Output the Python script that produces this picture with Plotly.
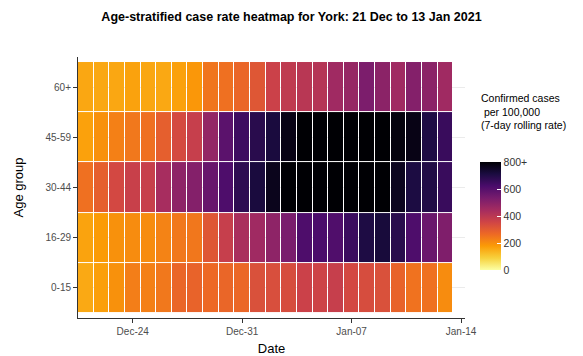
import plotly.graph_objects as go
import pandas as pd

# ---- data ----
dates = pd.date_range("2020-12-21", "2021-01-13", freq="D")
age_groups = ["0-15", "16-29", "30-44", "45-59", "60+"]

rate_0_15 = [155, 172, 195, 230, 225, 240, 275, 280, 268, 275, 272, 325,
             330, 335, 365, 360, 375, 345, 335, 325, 280, 250, 252, 205]
rate_16_29 = [165, 178, 195, 205, 205, 220, 240, 242, 310, 375, 435, 455,
              490, 530, 615, 620, 610, 650, 705, 720, 685, 615, 560, 520]
rate_30_44 = [255, 290, 345, 370, 372, 440, 490, 510, 565, 615, 675, 715,
              765, 860, 905, 940, 960, 930, 890, 840, 760, 710, 700, 655]
rate_45_59 = [168, 195, 225, 240, 255, 290, 340, 375, 480, 590, 645, 685,
              715, 775, 830, 880, 910, 900, 870, 830, 785, 775, 705, 655]
rate_60p = [158, 156, 158, 166, 158, 156, 168, 185, 245, 255, 275, 310,
            365, 390, 405, 410, 455, 475, 525, 495, 455, 510, 495, 455]

tick_dates = ["2020-12-24", "2020-12-31", "2021-01-07", "2021-01-14"]
cbar_vals = [0, 200, 400, 600, 800]
cbar_text = ["0", "200", "400", "600", "800+"]

z = [rate_0_15, rate_16_29, rate_30_44, rate_45_59, rate_60p]

FONT = "Liberation Sans, Arial, sans-serif"

fig = go.Figure(
    go.Heatmap(
        x=dates,
        y=age_groups,
        z=z,
        zmin=0,
        zmax=800,
        colorscale="Inferno_r",
        xgap=1,
        ygap=1,
        colorbar=dict(
            tickvals=cbar_vals,
            ticktext=cbar_text,
            ticks="inside",
            ticklen=4,
            tickcolor="white",
            thickness=21,
            thicknessmode="pixels",
            len=108,
            lenmode="pixels",
            x=1.038,
            xanchor="left",
            xpad=0,
            y=0.39,
            yanchor="middle",
            ypad=0,
            outlinewidth=0,
            tickfont=dict(family=FONT, size=10.5, color="#333333"),
        ),
    )
)

fig.update_layout(
    width=583,
    height=356,
    margin=dict(l=78, r=118, t=57, b=38, autoexpand=False),
    paper_bgcolor="white",
    plot_bgcolor="white",
    font=dict(family=FONT, color="black"),
    title=dict(
        text="<b>Age-stratified case rate heatmap for York: 21 Dec to 13 Jan 2021</b>",
        x=0.5,
        xanchor="center",
        xref="container",
        y=0.952,
        yanchor="middle",
        yref="container",
        font=dict(family=FONT, size=12.5, color="black"),
    ),
    annotations=[
        dict(
            text="Confirmed cases<br> per 100,000<br>(7-day rolling rate)",
            xref="paper",
            yref="paper",
            x=1.036,
            y=0.79,
            xanchor="left",
            yanchor="middle",
            align="left",
            showarrow=False,
            font=dict(family=FONT, size=10.5, color="black"),
        )
    ],
)

fig.update_xaxes(
    type="date",
    range=["2020-12-20 12:00", "2021-01-14 06:00"],
    tickvals=tick_dates,
    tickformat="%b-%d",
    ticks="outside",
    ticklen=4,
    tickcolor="#333333",
    showline=True,
    linecolor="#333333",
    linewidth=1,
    showgrid=False,
    zeroline=False,
    automargin=False,
    tickfont=dict(family=FONT, size=10, color="#4d4d4d"),
    title=dict(text="Date", font=dict(family=FONT, size=13, color="black"), standoff=8),
)

fig.update_yaxes(
    type="category",
    range=[-0.6, 4.6],
    ticks="outside",
    ticklen=4,
    tickcolor="#333333",
    showline=True,
    linecolor="#333333",
    linewidth=1,
    showgrid=True,
    gridcolor="#ebebeb",
    zeroline=False,
    automargin=False,
    tickfont=dict(family=FONT, size=10, color="#4d4d4d"),
    title=dict(text="Age group", font=dict(family=FONT, size=13, color="black"), standoff=18),
)

fig.write_html(
    "out.html",
    config={"displayModeBar": False},
    post_script="document.body.style.margin='0';",
)
